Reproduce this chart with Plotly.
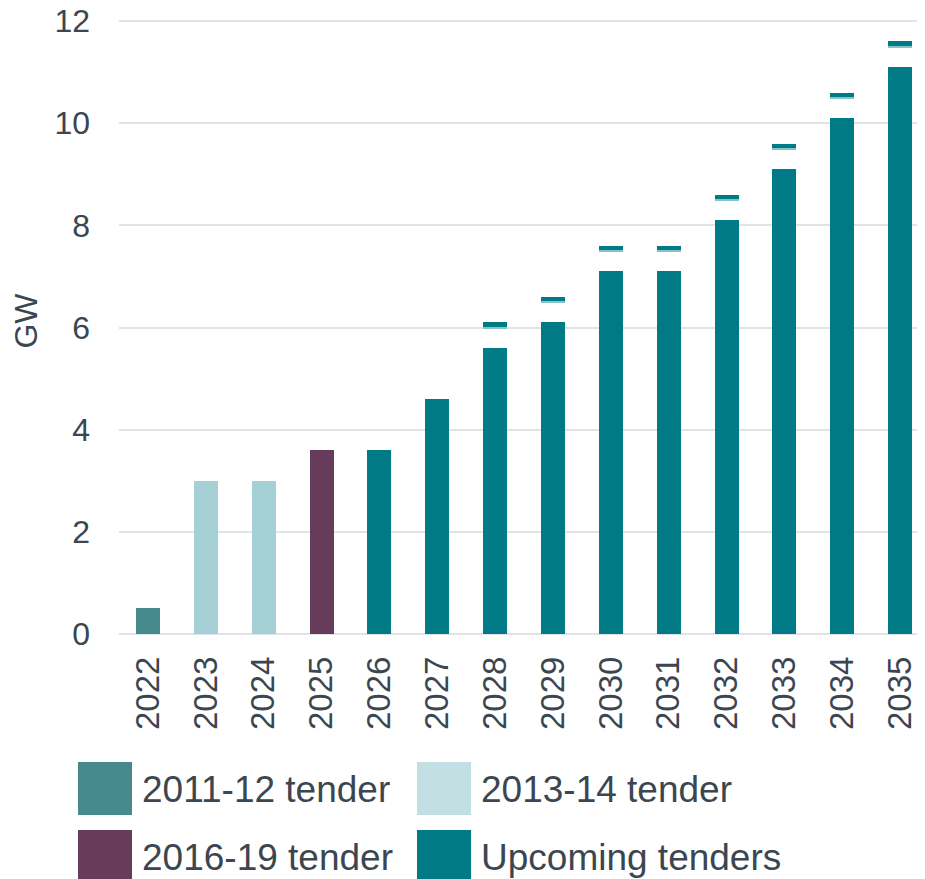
import plotly.graph_objects as go

# ---- data ----
years = [str(y) for y in range(2022, 2036)]
tender_2011_12_years = ["2022"]
tender_2011_12 = [0.5]
tender_2013_14_years = ["2023", "2024"]
tender_2013_14 = [3.0, 3.0]
tender_2016_19_years = ["2025"]
tender_2016_19 = [3.6]
upcoming_years = [str(y) for y in range(2026, 2036)]
upcoming = [3.6, 4.6, 5.6, 6.1, 7.1, 7.1, 8.1, 9.1, 10.1, 11.1]
upper_years = [str(y) for y in range(2028, 2036)]
upper_estimate = [6.1, 6.6, 7.6, 7.6, 8.6, 9.6, 10.6, 11.6]
legend_labels = ["2011-12 tender", "2013-14 tender", "2016-19 tender", "Upcoming tenders"]

# ---- styles ----
C_2011 = "#468A8E"
C_2013 = "#A5D0D5"
C_2013_LEG = "#C2E0E3"
C_2016 = "#673C5A"
C_UP = "#007A84"
C_CAP_LIGHT = "#86C3C8"
TXT = "#3B4650"
GRID = "#E0E4E8"
FONT = "Liberation Sans, Arial, sans-serif"

CAP_DARK = 0.09
CAP_LIGHT = 0.04

up_map = dict(zip(upcoming_years, upcoming))
gap_vals = [u - up_map[y] - CAP_DARK - CAP_LIGHT for y, u in zip(upper_years, upper_estimate)]

fig = go.Figure()
fig.add_bar(x=tender_2011_12_years, y=tender_2011_12, marker_color=C_2011, name=legend_labels[0])
fig.add_bar(x=tender_2013_14_years, y=tender_2013_14, marker_color=C_2013, name=legend_labels[1])
fig.add_bar(x=tender_2016_19_years, y=tender_2016_19, marker_color=C_2016, name=legend_labels[2])
fig.add_bar(x=upcoming_years, y=upcoming, marker_color=C_UP, name=legend_labels[3])
fig.add_bar(x=upper_years, y=gap_vals, marker_color="rgba(0,0,0,0)", hoverinfo="skip")
fig.add_bar(x=upper_years, y=[CAP_LIGHT] * len(upper_years), marker_color=C_CAP_LIGHT, hoverinfo="skip")
fig.add_bar(x=upper_years, y=[CAP_DARK] * len(upper_years), marker_color=C_UP, hoverinfo="skip")
fig.update_traces(marker_line_width=0, showlegend=False)

# page body has an 8px margin; size the figure so it ends at the window edge
OFF = 8
W, H = 925 - OFF, 879 - OFF
ZERO_PY = 634          # page y of value 0
PX_PER_UNIT = 613 / 12
L, R, T = 119 - OFF, 0, 0
ph = ZERO_PY - OFF - T
B = H - T - ph
pw = W - L - R
YMAX = ph / PX_PER_UNIT

def px_x(px):
    return (px - OFF - L) / pw

def px_y(py):
    return (ZERO_PY - py) / ph

# custom legend (large swatches)
legend_colors = [C_2011, C_2013_LEG, C_2016, C_UP]
sw_x = [78, 417, 78, 417]
row_c = [788.5, 788.5, 856.5, 856.5]
shapes = []
annotations = []
for lab, col, sx, cy in zip(legend_labels, legend_colors, sw_x, row_c):
    shapes.append(dict(type="rect", xref="paper", yref="paper",
                       x0=px_x(sx), x1=px_x(sx + 54), y0=px_y(cy + 26.5), y1=px_y(cy - 26.5),
                       fillcolor=col, line_width=0, layer="above"))
    annotations.append(dict(xref="paper", yref="paper", x=px_x(sx + 62), y=px_y(cy + 1),
                            xanchor="left", yanchor="middle", text=lab, showarrow=False,
                            font=dict(size=37, color=TXT, family=FONT)))

fig.update_layout(
    width=W, height=H,
    margin=dict(l=L, r=R, t=T, b=B, pad=0, autoexpand=False),
    barmode="stack",
    bargap=0.585,
    plot_bgcolor="white", paper_bgcolor="white",
    showlegend=False,
    font=dict(family=FONT, color=TXT),
    shapes=shapes,
    annotations=annotations,
)
fig.update_xaxes(type="category", categoryorder="array", categoryarray=years,
                 range=[-0.5, 13.43], tickangle=-90, showgrid=False, showline=False,
                 ticks="", tickfont=dict(size=33, color=TXT, family=FONT),
                 ticklabelstandoff=15, automargin=False)
fig.update_yaxes(range=[0, YMAX], tick0=0, dtick=2, showgrid=True, gridcolor=GRID, gridwidth=2,
                 zeroline=True, zerolinecolor=GRID, zerolinewidth=2, showline=False,
                 ticks="", tickfont=dict(size=32, color=TXT, family=FONT),
                 ticklabelstandoff=28, ticklabeloverflow="allow", automargin=False,
                 title=dict(text="GW", font=dict(size=32, color=TXT, family=FONT), standoff=19))

fig.write_html("out.html")
